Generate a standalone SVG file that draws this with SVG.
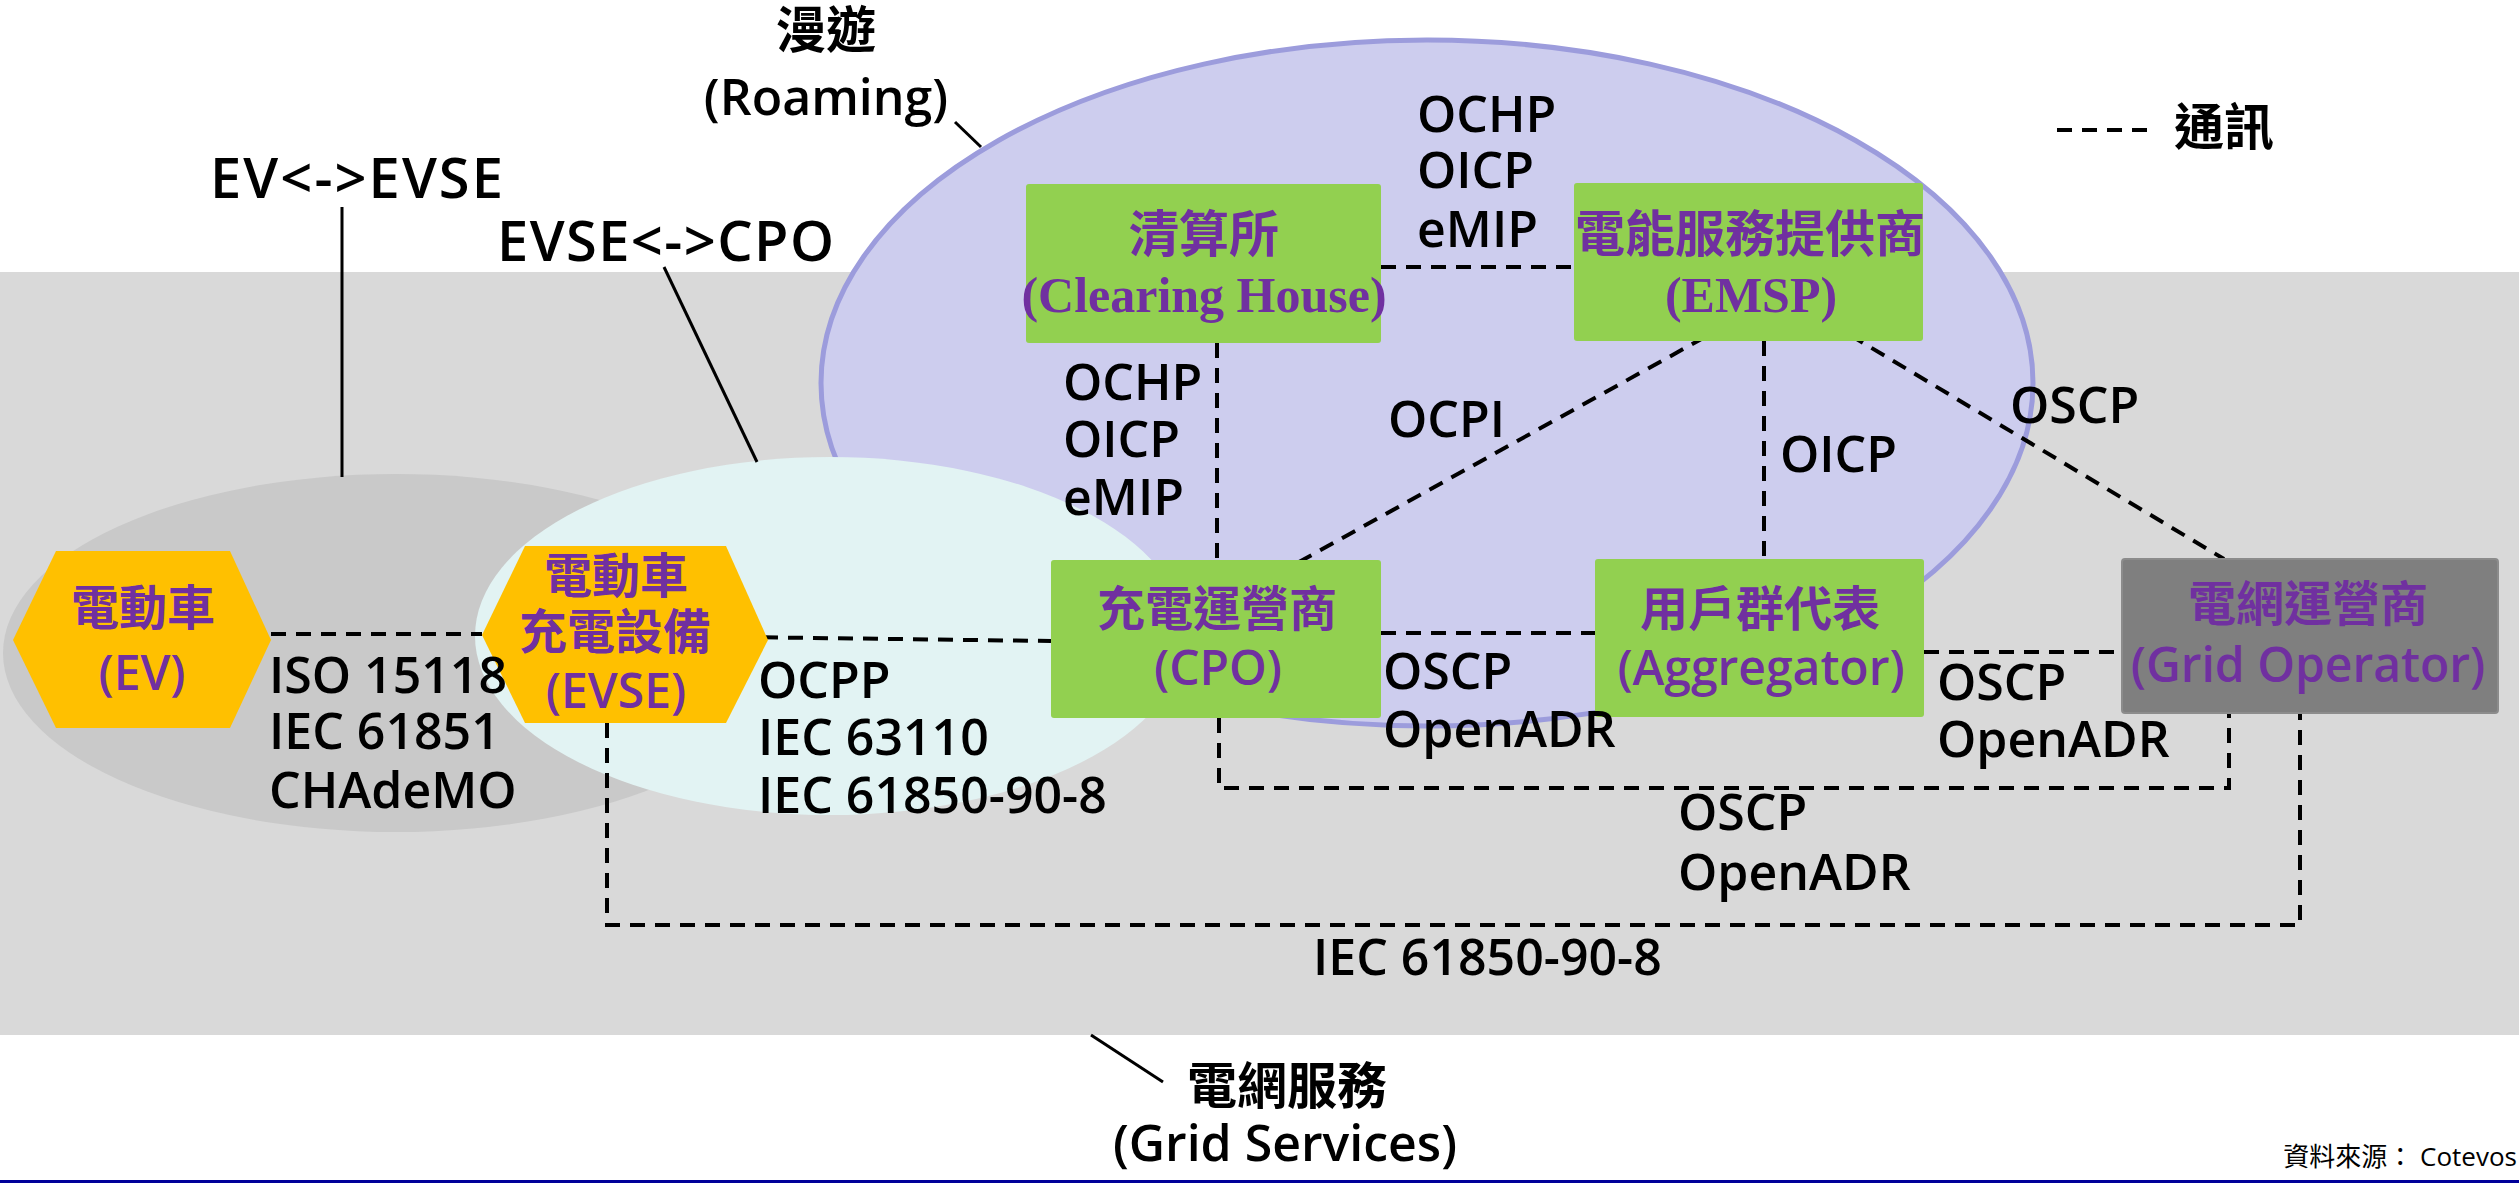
<svg xmlns="http://www.w3.org/2000/svg" width="2519" height="1183" viewBox="0 0 2519 1183">
<style>
.lbl{font-family:"Open Sans","Noto Sans CJK TC",sans-serif;font-weight:600;font-size:50px;fill:#000}
.big{font-family:"Open Sans","Noto Sans CJK TC",sans-serif;font-weight:600;font-size:56px;fill:#000}
.cap{font-family:"Open Sans","Noto Sans CJK TC",sans-serif;font-weight:600;font-size:50px;fill:#000;text-anchor:middle}
.nsans{font-family:"Open Sans","Noto Sans CJK TC",sans-serif;font-weight:600;font-size:48px;fill:#7030a0;text-anchor:middle}
.nserif{font-family:"Liberation Serif","Noto Sans CJK TC",serif;font-weight:bold;font-size:50px;fill:#7030a0;text-anchor:middle}
.dash{fill:none;stroke:#000;stroke-width:4;stroke-dasharray:15 10}
.lead{fill:none;stroke:#000;stroke-width:3}
.green{fill:#92d050}
.hex{fill:#ffc000}
</style>
<rect x="0" y="0" width="2519" height="1183" fill="#fff"/>
<rect x="0" y="272" width="2519" height="763" fill="#d9d9d9"/>
<ellipse cx="1427" cy="383" rx="606" ry="343" fill="#cdcdee" stroke="#9c9cdc" stroke-width="5"/>
<ellipse cx="396" cy="653" rx="393" ry="179" fill="#c9c9c9"/>
<ellipse cx="830" cy="636" rx="355" ry="179" fill="#e2f3f3"/>
<line x1="0" y1="1181.5" x2="2519" y2="1181.5" stroke="#000099" stroke-width="3"/>

<g id="leaders">
<line class="lead" x1="342" y1="207" x2="342" y2="477"/>
<line class="lead" x1="664" y1="267" x2="757" y2="462"/>
<line class="lead" x1="955" y1="122" x2="981" y2="147"/>
<line class="lead" x1="1091" y1="1035" x2="1163" y2="1082"/>
</g>

<g id="connectors">
<line class="dash" x1="1381" y1="267" x2="1575" y2="267"/>
<line class="dash" x1="1217" y1="343" x2="1217" y2="560"/>
<line class="dash" x1="1705" y1="337" x2="1299" y2="562"/>
<line class="dash" x1="1764" y1="341" x2="1764" y2="559"/>
<line class="dash" x1="1850" y1="335" x2="2224" y2="559"/>
<line class="dash" x1="1381" y1="633" x2="1595" y2="633"/>
<line class="dash" x1="1924" y1="652" x2="2122" y2="652"/>
<line class="dash" x1="271" y1="634" x2="482" y2="634"/>
<line class="dash" x1="738" y1="637" x2="1051" y2="641"/>
<polyline class="dash" points="1219,718 1219,788 2229,788 2229,713"/>
<polyline class="dash" points="607,723 607,925 2300,925 2300,713"/>
<line class="dash" x1="2057" y1="130" x2="2152" y2="130"/>
</g>

<g id="n-clearing">
<rect class="green" x="1026" y="184" width="355" height="159" rx="3"/>
<text class="nserif" x="1204" y="252">清算所</text>
<text class="nserif" x="1204" y="312">(Clearing House)</text>
</g>
<g id="n-emsp">
<rect class="green" x="1574" y="183" width="349" height="158" rx="3"/>
<text class="nserif" x="1750" y="252" font-size="48">電能服務提供商</text>
<text class="nserif" x="1751" y="312">(EMSP)</text>
</g>
<g id="n-cpo">
<rect class="green" x="1051" y="560" width="330" height="158" rx="3"/>
<text class="nsans" x="1217" y="626">充電運營商</text>
<text class="nsans" x="1218" y="685">(CPO)</text>
</g>
<g id="n-aggregator">
<rect class="green" x="1595" y="559" width="329" height="158" rx="3"/>
<text class="nsans" x="1760" y="626">用戶群代表</text>
<text class="nsans" x="1761" y="685">(Aggregator)</text>
</g>
<g id="n-grid">
<rect x="2122" y="559" width="376" height="154" rx="3" fill="#7f7f7f" stroke="#8c8c8c" stroke-width="2"/>
<text class="nsans" x="2308" y="621">電網運營商</text>
<text class="nsans" x="2308" y="682">(Grid Operator)</text>
</g>
<g id="n-ev">
<polygon class="hex" points="13,640 56,551 230,551 271,640 230,728 56,728"/>
<text class="nsans" x="143" y="625" font-size="50">電動車</text>
<text class="nsans" x="142" y="690" font-size="50">(EV)</text>
</g>
<g id="n-evse">
<polygon class="hex" points="482,635 525,546 726,546 768,640 726,723 525,723"/>
<text class="nsans" x="616" y="593" font-size="46">電動車</text>
<text class="nsans" x="615" y="649" font-size="46">充電設備</text>
<text class="nsans" x="616" y="708" font-size="48">(EVSE)</text>
</g>

<g id="labels">
<text class="cap" x="826" y="48">漫遊</text>
<text class="cap" x="826" y="115">(Roaming)</text>
<text class="big" x="210" y="198" textLength="293" lengthAdjust="spacing">EV&lt;-&gt;EVSE</text>
<text class="big" x="497" y="261" textLength="337" lengthAdjust="spacing">EVSE&lt;-&gt;CPO</text>
<text class="lbl" x="2174" y="145" font-size="45">通訊</text>

<text class="lbl" x="1417" y="132">OCHP</text>
<text class="lbl" x="1417" y="188">OICP</text>
<text class="lbl" x="1417" y="247">eMIP</text>

<text class="lbl" x="1063" y="400">OCHP</text>
<text class="lbl" x="1063" y="457">OICP</text>
<text class="lbl" x="1063" y="515">eMIP</text>

<text class="lbl" x="1388" y="437">OCPI</text>
<text class="lbl" x="1780" y="472">OICP</text>
<text class="lbl" x="2010" y="423">OSCP</text>

<text class="lbl" x="1383" y="689">OSCP</text>
<text class="lbl" x="1383" y="747">OpenADR</text>
<text class="lbl" x="1937" y="700">OSCP</text>
<text class="lbl" x="1937" y="757">OpenADR</text>
<text class="lbl" x="1678" y="830">OSCP</text>
<text class="lbl" x="1678" y="890">OpenADR</text>

<text class="lbl" x="269" y="693">ISO 15118</text>
<text class="lbl" x="269" y="749">IEC 61851</text>
<text class="lbl" x="269" y="808">CHAdeMO</text>

<text class="lbl" x="758" y="698">OCPP</text>
<text class="lbl" x="758" y="755">IEC 63110</text>
<text class="lbl" x="758" y="813">IEC 61850-90-8</text>

<text class="lbl" x="1313" y="975">IEC 61850-90-8</text>

<text class="cap" x="1287" y="1104">電網服務</text>
<text class="cap" x="1285" y="1161">(Grid Services)</text>

<text x="2517" y="1166" font-family="Open Sans,Noto Sans CJK TC,sans-serif" font-size="26" fill="#000" text-anchor="end">資料來源： Cotevos</text>
</g>
</svg>
